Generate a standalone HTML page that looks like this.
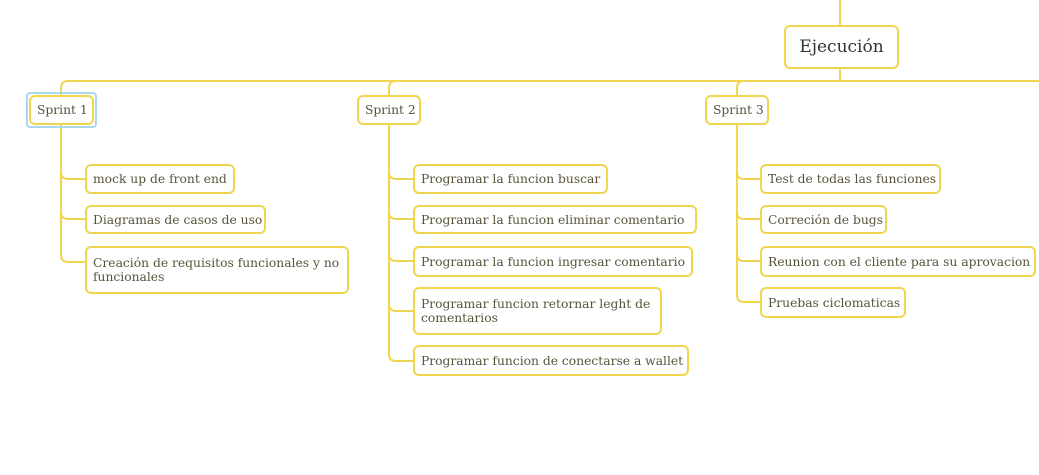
<!DOCTYPE html>
<html><head><meta charset="utf-8"><style>
body{margin:0;width:1039px;height:475px;background:#fff;position:relative;overflow:hidden;font-family:"DejaVu Serif","Liberation Serif",serif;}
.b{position:absolute;box-sizing:border-box;border:2px solid #f0d64e;border-radius:6px;background:#fff;color:#57533a;font-size:12.3px;line-height:14px;padding:0 6px;display:flex;align-items:center;white-space:nowrap;}
.w{white-space:normal;}
svg{position:absolute;left:0;top:0;}
</style></head><body>
<svg width="1039" height="475" fill="none" stroke="#f0d64e" stroke-width="2">
<path d="M840 0V25 M840 69V81"/>
<path d="M1039 81H68Q61 81 61 88V95"/>
<path d="M396 81Q389 81 389 88V95 M744 81Q737 81 737 88V95"/>
<path d="M61 125V172Q61 179 68 179H85 M61 172V212Q61 219 68 219H85 M61 212V255Q61 262 68 262H85"/>
<path d="M389 125V172Q389 179 396 179H413 M389 172V212Q389 219 396 219H413 M389 212V254Q389 261 396 261H413 M389 254V304Q389 311 396 311H413 M389 304V354Q389 361 396 361H413"/>
<path d="M737 125V172Q737 179 744 179H760 M737 172V212Q737 219 744 219H760 M737 212V254Q737 261 744 261H760 M737 254V295Q737 302 744 302H760"/>
</svg>
<div class="b" style="left:784px;top:25px;width:115px;height:44px;justify-content:center;font-size:17px;color:#333;">Ejecución</div>
<div style="position:absolute;left:26px;top:92px;width:71px;height:36px;box-sizing:border-box;border:2px solid #a8d8ec;border-radius:4px;"></div>
<div class="b" style="left:29px;top:95px;width:65px;height:30px;">Sprint 1</div>
<div class="b" style="left:357px;top:95px;width:64px;height:30px;">Sprint 2</div>
<div class="b" style="left:705px;top:95px;width:64px;height:30px;">Sprint 3</div>
<div class="b" style="left:85px;top:164px;width:150px;height:30px;">mock up de front end</div>
<div class="b" style="left:85px;top:205px;width:181px;height:29px;">Diagramas de casos de uso</div>
<div class="b w" style="left:85px;top:246px;width:264px;height:48px;">Creación de requisitos funcionales y no funcionales</div>
<div class="b" style="left:413px;top:164px;width:195px;height:30px;">Programar la funcion buscar</div>
<div class="b" style="left:413px;top:205px;width:284px;height:29px;">Programar la funcion eliminar comentario</div>
<div class="b" style="left:413px;top:246px;width:280px;height:31px;">Programar la funcion ingresar comentario</div>
<div class="b w" style="left:413px;top:287px;width:249px;height:48px;">Programar funcion retornar leght de comentarios</div>
<div class="b" style="left:413px;top:345px;width:276px;height:31px;">Programar funcion de conectarse a wallet</div>
<div class="b" style="left:760px;top:164px;width:181px;height:30px;">Test de todas las funciones</div>
<div class="b" style="left:760px;top:205px;width:127px;height:29px;">Correción de bugs</div>
<div class="b" style="left:760px;top:246px;width:276px;height:31px;">Reunion con el cliente para su aprovacion</div>
<div class="b" style="left:760px;top:287px;width:146px;height:31px;">Pruebas ciclomaticas</div>
</body></html>
